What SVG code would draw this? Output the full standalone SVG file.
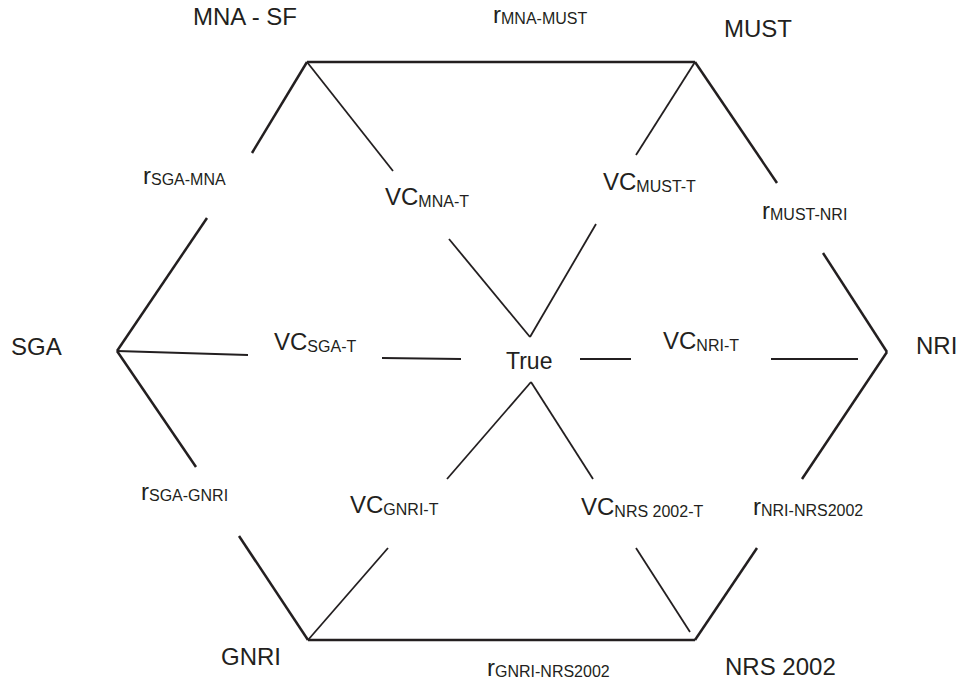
<svg xmlns="http://www.w3.org/2000/svg" width="956" height="681" viewBox="0 0 956 681">
<style>
text { font-family: "Liberation Sans", Arial, Helvetica, sans-serif; fill: #231f20; }
.n { font-size: 24px; }
.sub { font-size: 16px; }
.edge { stroke: #231f20; stroke-width: 2.5; fill: none; stroke-linecap: butt; }
.spoke { stroke: #231f20; stroke-width: 1.8; fill: none; stroke-linecap: butt; }
</style>
<rect width="956" height="681" fill="#ffffff"/>
<g id="connectors">
  <!-- outer hexagon -->
  <line class="edge" x1="307" y1="62" x2="695" y2="62"/>
  <line class="edge" x1="307" y1="62" x2="252" y2="153"/>
  <line class="edge" x1="207" y1="218" x2="117" y2="351"/>
  <line class="edge" x1="695" y1="62" x2="777" y2="183"/>
  <line class="edge" x1="823" y1="253" x2="887" y2="352"/>
  <line class="edge" x1="887" y1="352" x2="802" y2="479"/>
  <line class="edge" x1="757" y1="548" x2="695" y2="640"/>
  <line class="edge" x1="308" y1="640" x2="695" y2="640"/>
  <line class="edge" x1="117" y1="351" x2="196" y2="467"/>
  <line class="edge" x1="239" y1="536" x2="308" y2="640"/>
  <!-- spokes -->
  <line class="spoke" x1="307" y1="62" x2="393" y2="171"/>
  <line class="spoke" x1="449" y1="239" x2="530" y2="337"/>
  <line class="spoke" x1="695" y1="62" x2="636" y2="155"/>
  <line class="spoke" x1="596" y1="224" x2="530" y2="337"/>
  <line class="spoke" x1="117" y1="351" x2="248" y2="355"/>
  <line class="spoke" x1="382" y1="358" x2="461" y2="359"/>
  <line class="spoke" x1="580" y1="359" x2="631" y2="359"/>
  <line class="spoke" x1="771" y1="359" x2="858" y2="359"/>
  <line class="spoke" x1="531" y1="382" x2="447" y2="479"/>
  <line class="spoke" x1="388" y1="548" x2="308" y2="640"/>
  <line class="spoke" x1="531" y1="382" x2="593" y2="479"/>
  <line class="spoke" x1="636" y1="548" x2="690" y2="632"/>
</g>
<g id="mna-sf"><text class="n" x="193" y="25">MNA - SF</text></g>
<g id="must"><text class="n" x="724" y="37">MUST</text></g>
<g id="nri"><text class="n" x="916" y="354">NRI</text></g>
<g id="nrs2002"><text class="n" x="725" y="675">NRS 2002</text></g>
<g id="gnri"><text class="n" x="221" y="665">GNRI</text></g>
<g id="sga"><text class="n" x="11" y="355">SGA</text></g>
<g id="true"><text class="n" x="506" y="369" style="font-size:23px">True</text></g>
<g id="r-mna-must"><text class="n" x="493" y="23">r<tspan class="sub" dy="1">MNA-MUST</tspan></text></g>
<g id="r-sga-mna"><text class="n" x="143" y="184">r<tspan class="sub" dy="1">SGA-MNA</tspan></text></g>
<g id="r-must-nri"><text class="n" x="762" y="219">r<tspan class="sub" dy="1">MUST-NRI</tspan></text></g>
<g id="r-sga-gnri"><text class="n" x="141" y="500">r<tspan class="sub" dy="1">SGA-GNRI</tspan></text></g>
<g id="r-nri-nrs2002"><text class="n" x="753" y="515">r<tspan class="sub" dy="1">NRI-NRS2002</tspan></text></g>
<g id="r-gnri-nrs2002"><text class="n" x="487" y="676">r<tspan class="sub" dy="1">GNRI-NRS2002</tspan></text></g>
<g id="vc-mna-t"><text class="n" x="385" y="205">VC<tspan class="sub" dy="2">MNA-T</tspan></text></g>
<g id="vc-must-t"><text class="n" x="603" y="190">VC<tspan class="sub" dy="2">MUST-T</tspan></text></g>
<g id="vc-sga-t"><text class="n" x="274" y="350">VC<tspan class="sub" dy="2">SGA-T</tspan></text></g>
<g id="vc-nri-t"><text class="n" x="663" y="349">VC<tspan class="sub" dy="2">NRI-T</tspan></text></g>
<g id="vc-gnri-t"><text class="n" x="350" y="513">VC<tspan class="sub" dy="2">GNRI-T</tspan></text></g>
<g id="vc-nrs2002-t"><text class="n" x="581" y="515">VC<tspan class="sub" dy="2">NRS 2002-T</tspan></text></g>
</svg>
